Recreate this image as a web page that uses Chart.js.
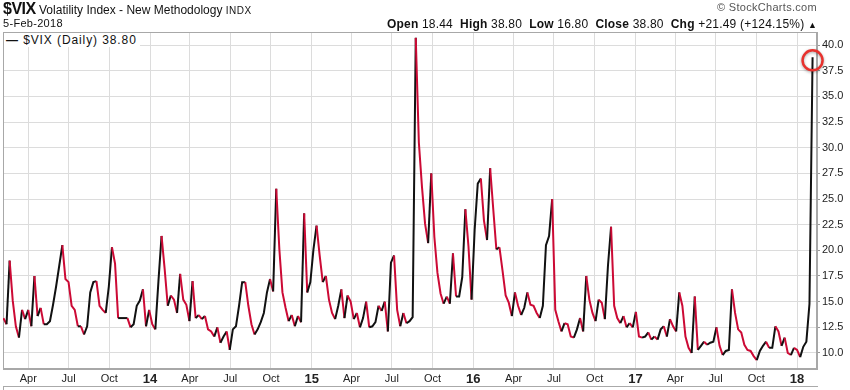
<!DOCTYPE html>
<html>
<head>
<meta charset="utf-8">
<script src="https://cdn.jsdelivr.net/npm/chart.js@4.4.1/dist/chart.umd.min.js"></script>
<style>
  body { margin: 0; background: #fff; font-family: "Liberation Sans", Arial, sans-serif; }
  #wrap { position: relative; width: 850px; height: 390px; }
  #vixChart { position: absolute; left: 0; top: 0; }
  .t { position: absolute; white-space: nowrap; color: #111; }
  .b { font-weight: bold; }
</style>
</head>
<body>
<div id="wrap">
  <canvas id="vixChart" width="850" height="390"></canvas>
  <div class="t" style="left:3px; top:0px; font-size:12px;"><span class="b" style="font-size:16px; letter-spacing:-0.5px;">$VIX</span> Volatility Index - New Methodology <span style="font-size:10px; letter-spacing:0.5px;">INDX</span></div>
  <div class="t" style="left:3px; top:17px; font-size:11px; letter-spacing:0.3px;">5-Feb-2018</div>
  <div class="t" style="right:33px; top:1px; font-size:11px; color:#555; letter-spacing:0.3px;">&copy; StockCharts.com</div>
  <div class="t" style="right:33px; top:17px; font-size:12px; letter-spacing:0.2px;"><span class="b">Open</span> 18.44 &nbsp;<span class="b">High</span> 38.80 &nbsp;<span class="b">Low</span> 16.80 &nbsp;<span class="b">Close</span> 38.80 &nbsp;<span class="b">Chg</span> +21.49 (+124.15%) <span style="font-size:9px;">&#9650;</span></div>
  <div class="t" style="left:4px; top:33px; font-size:12px; letter-spacing:0.9px; background:#fff; padding:0 3px 0 2px;"><span style="font-weight:bold;">&#8212;</span> $VIX (Daily) 38.80</div>
  <div style="position:absolute; left:3px; top:386px; width:814px; height:4px; border-top:1px solid #aaa; border-left:1px solid #aaa;"></div>
</div>
<script>
// --- data: weekly (Monday) closes ---
const startDate = '2013-02-04';
const vixWeekly = [
  13.4, 12.8, 19.0, 15.1, 12.6, 11.5, 14.2, 13.3, 14.2, 12.6,
  17.5, 13.6, 14.4, 12.8, 12.8, 13.1, 14.7, 16.5, 18.5, 20.5,
  17.2, 16.9, 14.6, 14.2, 12.6, 12.6, 11.8, 12.6, 15.9, 16.9,
  17.0, 14.6, 14.2, 13.9, 16.5, 20.3, 18.7, 13.4, 13.4, 13.4,
  13.4, 12.5, 12.8, 14.6, 15.1, 16.2, 12.6, 14.2, 12.8, 12.3,
  17.0, 21.4, 18.2, 14.6, 15.6, 15.2, 13.9, 17.7, 15.2, 14.7,
  13.1, 17.0, 13.4, 13.7, 13.3, 13.6, 12.3, 12.1, 11.6, 12.5,
  11.0, 11.6, 12.1, 10.3, 12.3, 12.6, 14.6, 16.9, 16.9, 14.6,
  12.8, 11.8, 12.3, 13.0, 13.9, 15.9, 17.2, 16.0, 26.0, 20.1,
  15.9, 14.4, 13.1, 13.7, 12.6, 13.6, 13.0, 23.6, 15.9, 16.9,
  20.1, 22.4, 19.5, 16.9, 17.5, 15.2, 13.9, 13.3, 14.6, 16.2,
  13.4, 15.6, 15.0, 13.3, 13.9, 12.5, 13.4, 15.0, 12.5, 12.6,
  13.0, 14.6, 14.1, 15.0, 12.1, 18.8, 19.5, 14.2, 12.6, 13.9,
  12.9, 13.1, 13.5, 40.7, 30.5, 26.2, 22.6, 20.7, 27.5, 21.3,
  17.8, 15.8, 14.8, 15.5, 14.8, 19.7, 15.5, 15.5, 17.4, 24.0,
  20.4, 15.2, 22.0, 26.5, 27.0, 22.9, 21.0, 28.0, 24.0, 20.1,
  20.3, 18.0, 15.6, 14.9, 13.6, 15.9, 14.6, 13.7, 14.4, 15.9,
  14.7, 14.6, 13.9, 13.4, 14.6, 20.5, 21.4, 25.0, 14.2, 13.1,
  12.1, 12.9, 12.8, 11.6, 11.5, 12.3, 13.4, 12.1, 17.5, 15.2,
  13.9, 13.1, 15.2, 14.9, 13.3, 18.5, 22.3, 14.6, 13.4, 12.9,
  13.6, 12.5, 12.9, 12.5, 14.0, 11.6, 11.5, 11.6, 12.0, 11.3,
  11.6, 11.3, 12.3, 12.6, 11.6, 13.3, 12.6, 12.1, 15.9, 14.6,
  11.6, 10.5, 10.0, 15.5, 10.3, 10.7, 11.1, 10.8, 11.0, 11.1,
  12.5, 10.7, 9.8, 10.2, 10.3, 16.2, 13.9, 12.3, 12.0, 10.8,
  10.3, 10.2, 9.7, 9.3, 10.2, 10.7, 11.1, 10.5, 10.5, 12.6,
  12.1, 10.7, 11.5, 10.0, 9.8, 10.5, 10.3, 9.6, 10.6, 11.1,
  14.8, 38.8
];

// x-axis ticks (quarter starts)
const tickDates = [
  '2013-04-01', '2013-07-01', '2013-10-01', '2014-01-01',
  '2014-04-01', '2014-07-01', '2014-10-01', '2015-01-01',
  '2015-04-01', '2015-07-01', '2015-10-01', '2016-01-01',
  '2016-04-01', '2016-07-01', '2016-10-01', '2017-01-01',
  '2017-04-01', '2017-07-01', '2017-10-01', '2018-01-01'
];
const tickLabels = ['Apr', 'Jul', 'Oct', '14', 'Apr', 'Jul', 'Oct', '15', 'Apr', 'Jul', 'Oct', '16',
                    'Apr', 'Jul', 'Oct', '17', 'Apr', 'Jul', 'Oct', '18'];
const yTicks = [10, 12.5, 15, 17.5, 20, 22.5, 25, 27.5, 30, 32.5, 35, 37.5, 40];

const DAY = 86400000;
const t0 = Date.parse(startDate);
const dayOf = s => Math.round((Date.parse(s) - t0) / DAY);

const points = vixWeekly.map((v, i) => ({ x: i * 7, y: v }));
const tickDays = tickDates.map(dayOf);

const UP = '#111111', DOWN = '#cc0a35';

// plot frame + red circle on the last close
const extras = {
  id: 'extras',
  beforeDatasetsDraw(chart) {
    const { ctx, chartArea: a } = chart;
    ctx.save();
    ctx.strokeStyle = '#a8a8a8';
    ctx.lineWidth = 1;
    ctx.strokeRect(a.left + 0.5, a.top + 0.5, a.right - a.left - 1, a.bottom - a.top - 1);
    ctx.restore();
  },
  afterDatasetsDraw(chart) {
    const meta = chart.getDatasetMeta(0);
    const last = meta.data[meta.data.length - 1];
    const ctx = chart.ctx;
    ctx.save();
    ctx.shadowColor = 'rgba(0,0,0,0.35)';
    ctx.shadowBlur = 3;
    ctx.shadowOffsetY = 1;
    ctx.strokeStyle = '#e8322e';
    ctx.lineWidth = 2.5;
    ctx.beginPath();
    ctx.arc(last.x, last.y + 3, 10, 0, Math.PI * 2);
    ctx.stroke();
    ctx.restore();
  }
};

const chart = new Chart(document.getElementById('vixChart'), {
  type: 'line',
  data: {
    datasets: [{
      label: '$VIX (Daily)',
      data: points,
      borderWidth: 2,
      borderColor: DOWN,
      pointRadius: 0,
      tension: 0,
      segment: {
        borderColor: c => c.p1.parsed.y >= c.p0.parsed.y ? UP : DOWN
      }
    }]
  },
  options: {
    responsive: false,
    animation: false,
    devicePixelRatio: 1,
    layout: { padding: { left: 3, top: 32, right: 0, bottom: 0 } },
    plugins: { legend: { display: false }, tooltip: { enabled: false } },
    scales: {
      x: {
        type: 'linear',
        min: -1,
        max: 1837,
        afterBuildTicks: s => { s.ticks = tickDays.map(v => ({ value: v })); },
        afterFit: s => { s.height = 21; },
        grid: { color: '#dcdcdc', tickLength: 0, drawTicks: false },
        border: { color: '#a8a8a8' },
        ticks: {
          autoSkip: false,
          maxRotation: 0,
          padding: 3,
          color: '#222',
          callback: (v, i) => tickLabels[i],
          font: c => /^\d/.test(tickLabels[c.index] || '')
            ? { family: 'Liberation Sans', size: 13, weight: 'bold' }
            : { family: 'Liberation Sans', size: 11 }
        }
      },
      y: {
        position: 'right',
        min: 8.44,
        max: 41.27,
        afterBuildTicks: s => { s.ticks = yTicks.map(v => ({ value: v })); },
        afterFit: s => { s.width = 33; },
        grid: { color: '#dcdcdc', tickLength: 3, tickColor: '#999' },
        border: { color: '#a8a8a8' },
        ticks: {
          padding: 2,
          color: '#222',
          font: { family: 'Liberation Sans', size: 11 },
          callback: v => v.toFixed(1)
        }
      }
    }
  },
  plugins: [extras]
});
</script>
</body>
</html>
